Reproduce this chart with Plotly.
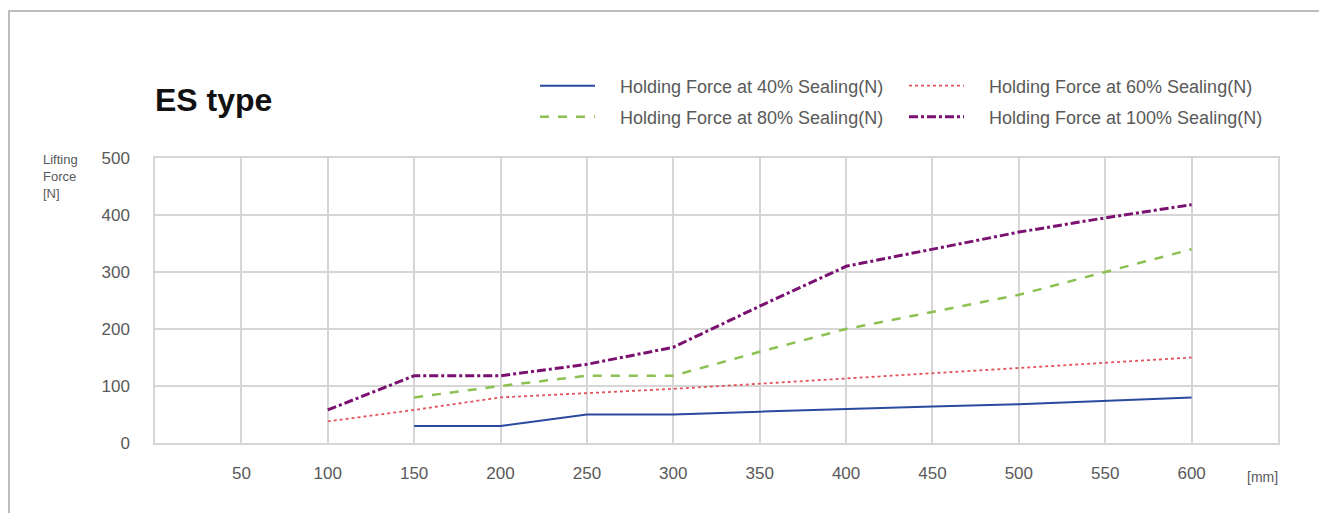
import plotly.graph_objects as go

x_mm = [50, 100, 150, 200, 250, 300, 350, 400, 450, 500, 550, 600]
tick_labels = [str(v) for v in x_mm]
y_ticks = [0, 100, 200, 300, 400, 500]

x40 = [150, 200, 250, 300, 350, 400, 450, 500, 550, 600]
y40 = [30, 30, 50, 50, 55, 60, 64, 68, 74, 80]

x60 = [100, 150, 200, 250, 300, 350, 400, 450, 500, 550, 600]
y60 = [38, 58, 80, 87, 95, 104, 113, 122, 131, 140, 150]

x80 = [150, 200, 250, 300, 350, 400, 450, 500, 550, 600]
y80 = [80, 100, 118, 118, 160, 200, 230, 260, 300, 340]

x100 = [100, 150, 200, 250, 300, 350, 400, 450, 500, 550, 600]
y100 = [58, 118, 118, 138, 168, 240, 310, 340, 370, 395, 418]

names = [
    "Holding Force at 40% Sealing(N)",
    "Holding Force at 60% Sealing(N)",
    "Holding Force at 80% Sealing(N)",
    "Holding Force at 100% Sealing(N)",
]
pad = "\u00a0" * 4

FONT = "Liberation Sans, Arial"
fig = go.Figure()
fig.add_trace(go.Scatter(x=x40, y=y40, mode="lines", name=pad + names[0], legend="legend",
                         line=dict(color="#2A4AA0", width=2, dash="solid")))
fig.add_trace(go.Scatter(x=x60, y=y60, mode="lines", name=pad + names[1], legend="legend",
                         line=dict(color="#E2535E", width=1.8, dash="dot")))
fig.add_trace(go.Scatter(x=x80, y=y80, mode="lines", name=pad + names[2], legend="legend2",
                         line=dict(color="#8CC152", width=2.5, dash="dash")))
fig.add_trace(go.Scatter(x=x100, y=y100, mode="lines", name=pad + names[3], legend="legend2",
                         line=dict(color="#7A1070", width=3, dash="dashdot")))

grid = "#D6D6D6"
tickfont = dict(family=FONT, size=17, color="#595959")
legfont = dict(family=FONT, size=18, color="#595959")

W, H = 1327, 513
L, R, T, B = 147, 57, 150, 78
PW, PH = W - L - R, H - T - B

common_leg = dict(orientation="h", xref="container", x=527 / W, xanchor="left",
                  yref="container", yanchor="middle", entrywidth=299,
                  entrywidthmode="pixels", font=legfont, itemwidth=55,
                  bgcolor="rgba(0,0,0,0)")

fig.update_layout(
    width=W, height=H,
    margin=dict(l=L, r=R, t=T, b=B),
    paper_bgcolor="white", plot_bgcolor="white",
    font=dict(family=FONT, color="#595959"),
    showlegend=True,
    legend=dict(common_leg, y=1 - 78 / H),
    legend2=dict(common_leg, y=1 - 109 / H),
    xaxis=dict(range=[0, 650], tickmode="array", tickvals=x_mm, ticktext=tick_labels,
               showgrid=True, gridcolor=grid, gridwidth=1.5, zeroline=False,
               showline=True, linecolor=grid, linewidth=1.5, mirror=True,
               tickfont=tickfont, ticks="", ticklabelstandoff=14, fixedrange=True),
    yaxis=dict(range=[0, 500], tickmode="array", tickvals=y_ticks,
               showgrid=True, gridcolor=grid, gridwidth=1.5, zeroline=False,
               showline=True, linecolor=grid, linewidth=1.5, mirror=True,
               tickfont=tickfont, ticks="", ticklabelstandoff=20, fixedrange=True),
)

fig.add_annotation(text="<b>ES type</b>", xref="paper", yref="paper",
                   x=0, y=1.0, xanchor="left", yanchor="middle", yshift=58, xshift=-2,
                   showarrow=False, font=dict(size=32, color="#111111", family=FONT))
fig.add_annotation(text="Lifting<br>Force<br>[N]", xref="paper", yref="paper",
                   x=0, y=1.0, xanchor="left", yanchor="top", xshift=-114, yshift=8,
                   showarrow=False, align="left",
                   font=dict(size=13, color="#595959", family=FONT))
fig.add_annotation(text="[mm]", xref="paper", yref="paper",
                   x=1.0, y=0, xanchor="right", yanchor="middle", yshift=-34, xshift=2,
                   showarrow=False, font=dict(size=14, color="#595959", family=FONT))
fig.add_shape(type="rect", xref="paper", yref="paper",
              x0=-(L - 1) / PW, x1=1 + 47 / PW, y0=-(B - 2) / PH, y1=1 + 147 / PH,
              line=dict(color="#BDBDBD", width=2), fillcolor="rgba(0,0,0,0)")

fig.write_html("out.html")
